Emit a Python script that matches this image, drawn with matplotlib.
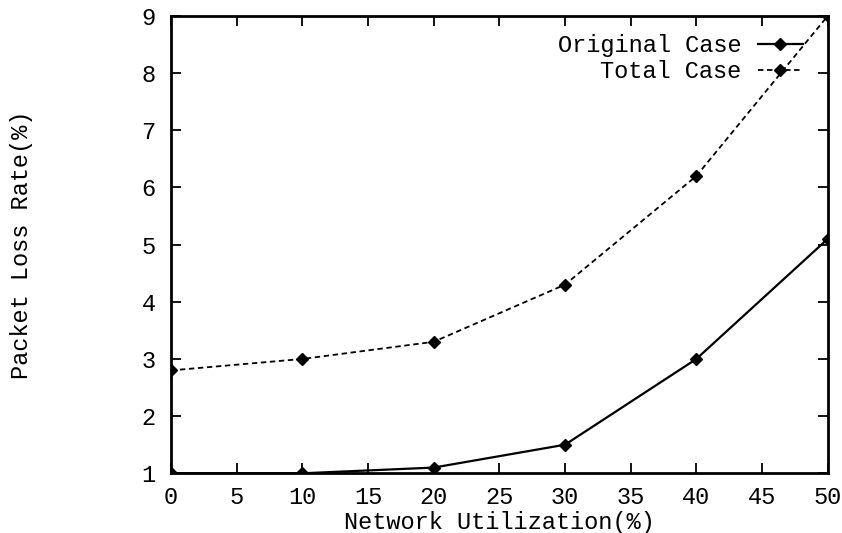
import matplotlib
matplotlib.use("Agg")
import matplotlib.pyplot as plt

utilization = [0, 10, 20, 30, 40, 50]
original_case = [1.0, 1.0, 1.1, 1.5, 3.0, 5.1]
total_case = [2.8, 3.0, 3.3, 4.3, 6.2, 9.0]

plt.rcParams['font.family'] = ['Liberation Mono', 'DejaVu Sans Mono']
plt.rcParams['font.size'] = 17

fig = plt.figure(figsize=(8.42, 5.33), dpi=100)
ax = fig.add_axes([0.203, 0.112, 0.780, 0.858])

ax.plot(utilization, original_case, color='black', lw=1.6, marker='D',
        markersize=6, label='Original Case')
ax.plot(utilization, total_case, color='black', lw=1.3, ls=(0, (3, 2)),
        marker='D', markersize=6, label='Total Case')

ax.set_xlim(0, 50)
ax.set_ylim(1, 9)
ax.set_xticks(range(0, 51, 5))
ax.set_yticks(range(1, 10))
ax.tick_params(direction='in', length=7, width=1.3, top=True, right=True)
ax.tick_params(axis='x', pad=9.5)
ax.tick_params(axis='y', pad=11)
for s in ax.spines.values():
    s.set_linewidth(2)

ax.set_xlabel('Network Utilization(%)', labelpad=1)
ax.set_ylabel('Packet Loss Rate(%)')
ax.yaxis.set_label_coords(-0.21, 0.5)

ax.legend(loc='upper right', frameon=False, markerfirst=False, handlelength=1.9,
          handletextpad=0.7, labelspacing=0.12, borderpad=0, borderaxespad=0,
          bbox_to_anchor=(0.962, 0.96))

fig.savefig('out.png', dpi=100)
